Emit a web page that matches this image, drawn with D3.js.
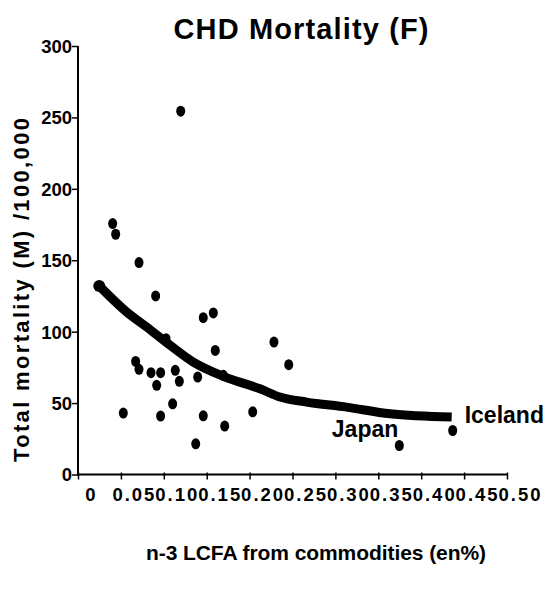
<!DOCTYPE html>
<html><head><meta charset="utf-8">
<script src="https://cdn.jsdelivr.net/npm/d3@7/dist/d3.min.js"></script>
<style>
body{margin:0;background:#fff}
text{font-family:Arial,"Liberation Sans",sans-serif;font-weight:bold;fill:#000}
</style>
</head><body>
<svg id="chart" width="550" height="590"></svg>
<script>
// Scatter points: n-3 LCFA (en%) vs mortality per 100,000
const pointX = [0.0248,0.1197,0.0404,0.0439,0.0711,0.0905,0.146,0.1577,0.1026,0.16,0.2284,0.2456,
                0.0672,0.0711,0.0851,0.0963,0.0917,0.1134,0.1181,0.1395,0.1694,0.1103,0.0528,0.0963,
                0.146,0.171,0.1372,0.2036,0.3745,0.4367];
const pointY = [132,254.4,175.7,168.2,148.4,125,109.8,113.1,95.1,86.9,92.7,76.9,
                79.2,73.6,71.3,71.3,62.4,72.9,65.2,68.2,69.4,49.5,43,40.9,
                41.1,33.9,21.5,43.9,20.3,30.8];
// Fitted curve
const curveX = [0.0248,0.0567,0.08,0.1026,0.1344,0.1694,0.2121,0.2354,0.2665,0.313,0.3636,0.4355];
const curveY = [132,113.8,103.3,92.7,78.7,68.7,60,54.2,50.7,47.2,42.5,40.2];
// Axes
const xTicks = [0,0.05,0.10,0.15,0.20,0.25,0.30,0.35,0.40,0.45,0.50];
const xTickLabels = ["0","0.05","0.10","0.15","0.20","0.25","0.30","0.35","0.40","0.45","0.50"];
const yTicks = [0,50,100,150,200,250,300];
const yTickLabels = ["0","50","100","150","200","250","300"];
// Labelled countries (index into points)
const labelNames = ["Japan","Iceland"];
const labelIndex = [28,29];
const titleText = "CHD Mortality (F)";
const xTitle = "n-3 LCFA from commodities (en%)";
const yTitle = "Total mortality (M) /100,000";

const svg = d3.select("#chart");
const x = d3.scaleLinear().domain([0,0.5]).range([78,507]);
const y = d3.scaleLinear().domain([0,300]).range([474.5,46]);

// title
svg.append("text").attr("x",301).attr("y",39).attr("text-anchor","middle")
  .attr("font-size",29).attr("textLength",255).attr("lengthAdjust","spacing").text(titleText);

// y axis
const ya = svg.append("g").attr("transform",`translate(${x(0)},0)`)
  .call(d3.axisLeft(y).tickValues(yTicks).tickSize(6).tickFormat((d,i)=>yTickLabels[i]));
ya.select(".domain").attr("stroke","#000").attr("stroke-width",2).attr("d",`M0,${y(300)}V${y(0)+1}`);
ya.selectAll(".tick line").attr("stroke","#000").attr("stroke-width",1.5);
ya.selectAll(".tick text").attr("x",-6).attr("dy","0.35em").attr("font-size",18.5)
  .attr("font-family","Arial,'Liberation Sans',sans-serif").attr("font-weight","bold")
  .attr("fill","#000");

// x axis
const xa = svg.append("g").attr("transform",`translate(0,${y(0)})`)
  .call(d3.axisBottom(x).tickValues(xTicks).tickSize(6).tickFormat((d,i)=>xTickLabels[i]));
xa.select(".domain").attr("stroke","#000").attr("stroke-width",2).attr("d",`M${x(0)-1},0H${x(0.5)}`);
xa.selectAll(".tick line").attr("stroke","#000").attr("stroke-width",1.5).attr("y1",-2).attr("y2",5);
xa.selectAll(".tick text").attr("dx",12).attr("y",26).attr("dy",0).attr("font-size",18.5)
  .attr("font-family","Arial,'Liberation Sans',sans-serif").attr("font-weight","bold").attr("fill","#000")
  .each(function(d,i){ if(xTickLabels[i].length>1) d3.select(this).attr("textLength",42).attr("lengthAdjust","spacing"); });

// axis titles
svg.append("text").attr("transform","translate(29,290) rotate(-90)").attr("text-anchor","middle")
  .attr("font-size",22).attr("textLength",344).attr("lengthAdjust","spacing").text(yTitle);
svg.append("text").attr("x",316).attr("y",560).attr("text-anchor","middle")
  .attr("font-size",21).attr("textLength",340).attr("lengthAdjust","spacing").text(xTitle);

// curve
const line = d3.line().x((d,i)=>x(curveX[i])).y((d,i)=>y(curveY[i])).curve(d3.curveMonotoneX);
svg.append("path").datum(curveX).attr("d",line).attr("fill","none").attr("stroke","#000")
  .attr("stroke-width",9).attr("stroke-linecap","butt").attr("stroke-linejoin","round");

// points
svg.append("g").selectAll("ellipse").data(pointX).join("ellipse")
  .attr("cx",(d,i)=>x(pointX[i])).attr("cy",(d,i)=>y(pointY[i]))
  .attr("rx",(d,i)=>i===0?6:4.5).attr("ry",(d,i)=>i===0?6:5.5).attr("fill","#000");

// country labels
svg.append("text").attr("x",x(pointX[labelIndex[0]])-1).attr("y",y(pointY[labelIndex[0]])-9)
  .attr("text-anchor","end").attr("font-size",23).text(labelNames[0]);
svg.append("text").attr("x",x(pointX[labelIndex[1]])+12).attr("y",y(pointY[labelIndex[1]])-8)
  .attr("font-size",23).text(labelNames[1]);
</script>
</body></html>
